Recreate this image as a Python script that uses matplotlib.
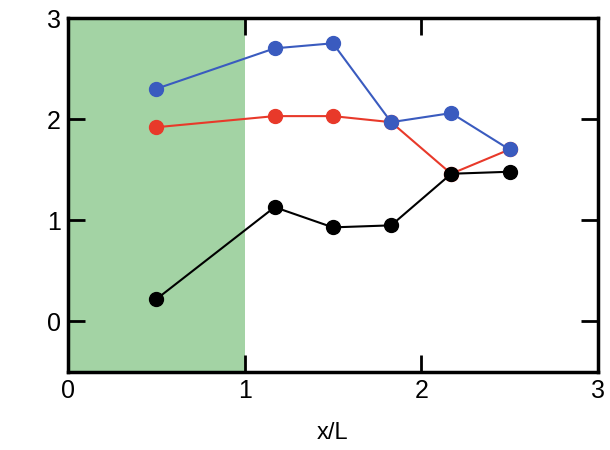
import matplotlib
matplotlib.use('Agg')
import matplotlib.pyplot as plt

plt.rcParams['font.family'] = ['Liberation Sans', 'DejaVu Sans']

# data
x_pos = [0.5, 1.17, 1.5, 1.83, 2.17, 2.5]
blue = [2.30, 2.70, 2.75, 1.97, 2.06, 1.70]
red = [1.92, 2.03, 2.03, 1.97, 1.46, 1.70]
black = [0.22, 1.13, 0.93, 0.95, 1.46, 1.48]

fig = plt.figure(figsize=(6.1, 4.5), dpi=100)
ax = fig.add_axes([0.1115, 0.1733, 0.8685, 0.7867])

ax.axvspan(0, 1, color='#a3d3a4', lw=0, zorder=0)

ax.plot(x_pos, red, color='#e8392a', marker='o', ms=10, lw=1.5, zorder=3)
ax.plot(x_pos, blue, color='#3a5bbf', marker='o', ms=10, lw=1.5, zorder=4)
ax.plot(x_pos, black, color='black', marker='o', ms=10, lw=1.5, zorder=5)

ax.set_xlim(0, 3)
ax.set_ylim(-0.5, 3)
ax.set_xticks([0, 1, 2, 3])
ax.set_yticks([0, 1, 2, 3])
ax.tick_params(direction='in', length=12, width=2, labelsize=18,
               top=True, right=True, pad=5)
for s in ax.spines.values():
    s.set_linewidth(2.5)

ax.set_xlabel('x/L', fontsize=17, labelpad=14)

fig.savefig('out.png', dpi=100)
